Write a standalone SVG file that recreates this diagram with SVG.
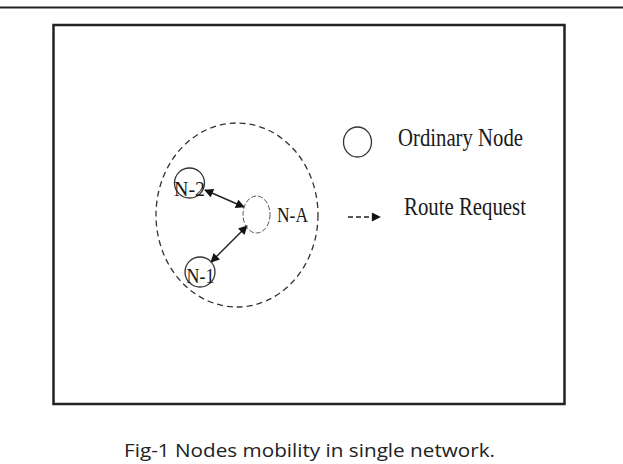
<svg xmlns="http://www.w3.org/2000/svg" width="623" height="464" viewBox="0 0 623 464">
<style>
.serif{font-family:"Liberation Serif","Times New Roman",serif;fill:#1a1a1a}
.node{fill:none;stroke:#333;stroke-width:1.3}
.conn{stroke:#222;stroke-width:1.4;fill:none}
</style>
<defs>
<marker id="ah" viewBox="0 0 10 10" refX="9" refY="5" markerWidth="10" markerHeight="9" markerUnits="userSpaceOnUse" orient="auto-start-reverse">
<path d="M0,0 L10,5 L0,10 z" fill="#111"/>
</marker>
</defs>
<rect width="623" height="464" fill="#fff"/>
<line x1="0" y1="7.5" x2="623" y2="7.5" stroke="#222" stroke-width="2"/>
<rect x="53.5" y="25" width="511" height="379" fill="none" stroke="#222" stroke-width="2.5"/>
<g id="range">
<ellipse cx="237" cy="215" rx="81" ry="92" fill="none" stroke="#333" stroke-width="1.3" stroke-dasharray="6,4"/>
</g>
<g id="connectors">
<line class="conn" x1="205" y1="190" x2="244" y2="207" marker-start="url(#ah)" marker-end="url(#ah)"/>
<line class="conn" x1="211" y1="262" x2="247" y2="226" marker-start="url(#ah)" marker-end="url(#ah)"/>
</g>
<g id="node-N-2">
<circle class="node" cx="189.5" cy="183" r="15"/>
<text class="serif" x="189.5" y="196" font-size="21" text-anchor="middle" textLength="31" lengthAdjust="spacingAndGlyphs">N-2</text>
</g>
<g id="node-N-A">
<ellipse cx="256.5" cy="214.5" rx="13.5" ry="18.5" fill="none" stroke="#555" stroke-width="1" stroke-dasharray="5,2"/>
<text class="serif" x="277" y="222" font-size="21" textLength="31" lengthAdjust="spacingAndGlyphs">N-A</text>
</g>
<g id="node-N-1">
<circle class="node" cx="200" cy="272" r="15"/>
<text class="serif" x="200.5" y="283" font-size="21" text-anchor="middle" textLength="28" lengthAdjust="spacingAndGlyphs">N-1</text>
</g>
<g id="legend">
<ellipse class="node" cx="357.5" cy="142" rx="14" ry="15"/>
<text class="serif" x="398" y="146" font-size="25" textLength="125" lengthAdjust="spacingAndGlyphs">Ordinary Node</text>
<line class="conn" x1="348" y1="217" x2="380" y2="217" stroke-dasharray="5,3" marker-end="url(#ah)"/>
<text class="serif" x="404" y="215" font-size="25" textLength="122" lengthAdjust="spacingAndGlyphs">Route Request</text>
</g>
<text x="124" y="457" font-family="'Open Sans','DejaVu Sans',sans-serif" font-size="19" fill="#222" textLength="371" lengthAdjust="spacingAndGlyphs">Fig-1 Nodes mobility in single network.</text>
</svg>
